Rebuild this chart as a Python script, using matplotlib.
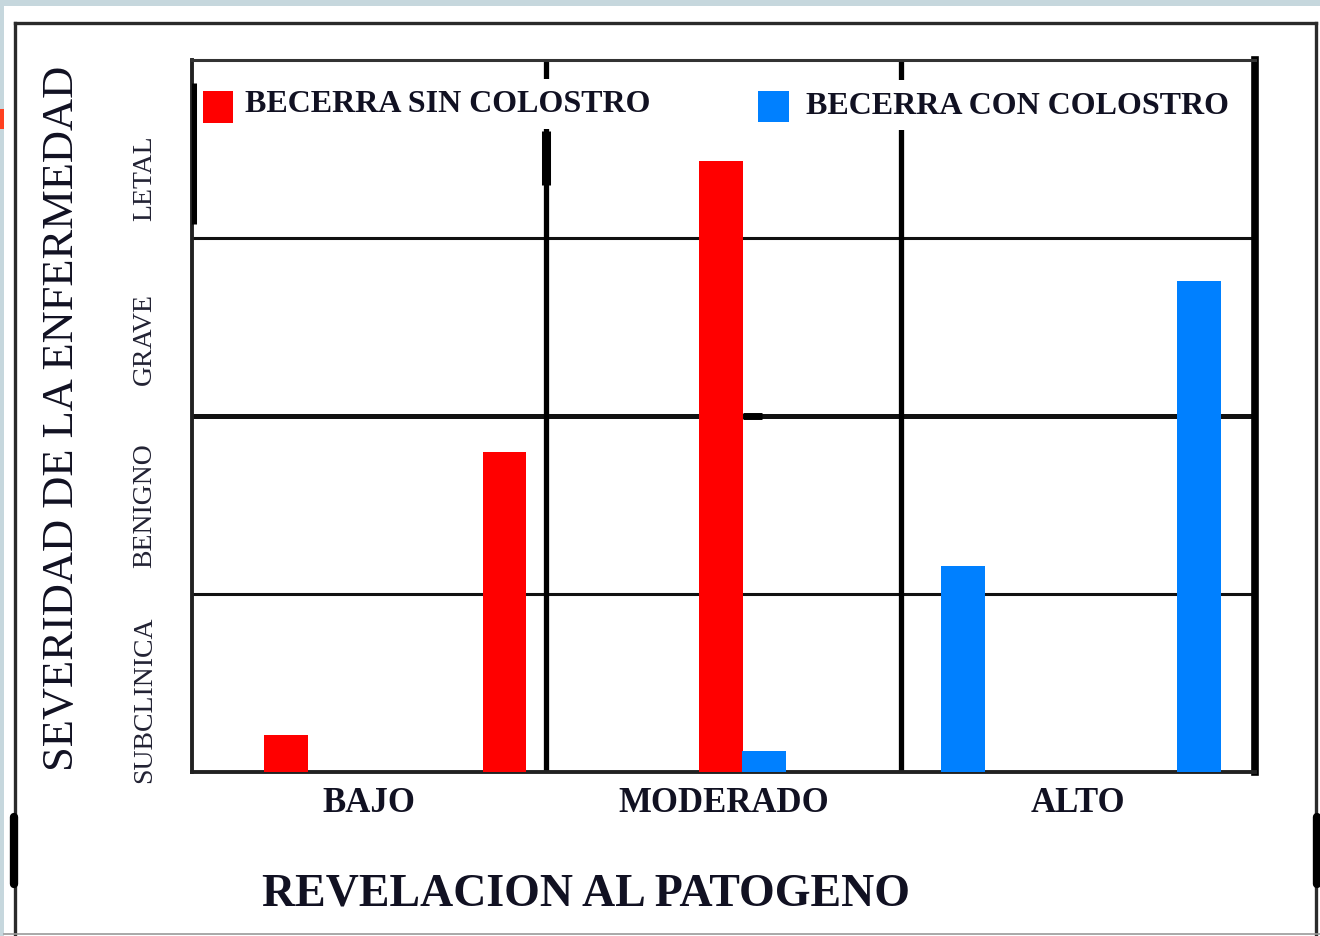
import numpy as np
import matplotlib
matplotlib.use("Agg")
import matplotlib.pyplot as plt
from matplotlib.patches import Rectangle
from matplotlib.lines import Line2D

# data (severity level, 0..4 scale)
groups = ["BAJO", "MODERADO", "ALTO"]
levels = ["SUBCLINICA", "BENIGNO", "GRAVE", "LETAL"]
sin_label = "BECERRA SIN COLOSTRO"
con_label = "BECERRA CON COLOSTRO"
sin_vals = [0.21, 1.80, 3.43]
con_vals = [0.12, 1.16, 2.76]

# where each bar sits along the exposure axis (groups are 0-1, 1-2, 2-3)
sin_pos = [0.265, 0.882, 1.492]
con_pos = [1.614, 2.176, 2.841]
level_pos = [0.41, 1.50, 2.44, 3.34]

RED = "#ff0000"
BLUE = "#0080ff"
W, H = 1320, 937


def fx(x):
    return x / W


def fy(y):
    return 1 - y / H


fig = plt.figure(figsize=(13.2, 9.37), dpi=100)
fig.patch.set_facecolor("white")

# page decoration around the picture
fig.add_artist(Rectangle((0, fy(7)), 1, 7 / H, transform=fig.transFigure,
                         facecolor="#c6d7dd", edgecolor="none"))
fig.add_artist(Rectangle((0, 0), 4 / W, 1, transform=fig.transFigure,
                         facecolor="#c6d7dd", edgecolor="none"))
fig.add_artist(Rectangle((0, fy(130)), 4 / W, 20 / H, transform=fig.transFigure,
                         facecolor="#ff4020", edgecolor="none"))
# outer frame
frame = dict(transform=fig.transFigure, color="#2a2a2a", lw=2.4)
fig.add_artist(Line2D([fx(15), fx(15)], [fy(24), fy(937)], **frame))
fig.add_artist(Line2D([fx(15), fx(1316)], [fy(24), fy(24)], **frame))
fig.add_artist(Line2D([fx(1316), fx(1316)], [fy(24), fy(937)], **frame))
fig.add_artist(Line2D([fx(4), fx(1320)], [fy(935), fy(935)], transform=fig.transFigure,
                      color="#9a9a9a", lw=1.2))
thick = dict(transform=fig.transFigure, color="black", lw=6, solid_capstyle="round")
fig.add_artist(Line2D([fx(14), fx(14)], [fy(818), fy(885)], **thick))
fig.add_artist(Line2D([fx(1317), fx(1317)], [fy(818), fy(885)], **thick))

ax = fig.add_axes([fx(192), fy(773), (1255 - 192) / W, (773 - 61) / H])
ax.set_xlim(0, 3)
ax.set_ylim(0, 4)

# grid
for y, lw in [(1, 2.2), (2, 3.6), (3, 2.2)]:
    ax.axhline(y, color="#111111", lw=lw, zorder=1)
for x in [1, 2]:
    ax.axvline(x, color="black", lw=3.8, zorder=1)
ax.vlines(0, 3.08, 3.87, color="black", lw=6.5, zorder=4)
ax.vlines(1, 3.30, 3.60, color="black", lw=6.5, zorder=4)
ax.hlines(2, 1.555, 1.61, color="black", lw=5, zorder=2)

bw = 0.124
ax.bar(sin_pos, sin_vals, width=bw, color=RED, zorder=3)
ax.bar(con_pos, con_vals, width=bw, color=BLUE, zorder=3)

for side in ["left", "bottom"]:
    ax.spines[side].set_linewidth(2.8)
    ax.spines[side].set_color("#222222")
ax.spines["top"].set_linewidth(2.2)
ax.spines["top"].set_color("#333333")
ax.spines["right"].set_linewidth(5.5)
ax.spines["right"].set_color("black")

ax.set_xticks([])
ax.set_yticks(level_pos)
ax.set_yticklabels(levels, rotation=90, va="center", family="Liberation Serif",
                   fontsize=20, color="#222233")
ax.tick_params(axis="y", length=0, pad=25)

fig.text(fx(62), fy(418), "SEVERIDAD DE LA ENFERMEDAD", rotation=90, ha="center",
         va="center", family="Liberation Serif", fontsize=32, color="#111122")

for i, g in enumerate(groups):
    ax.text(i + 0.5, -0.17, g, ha="center", va="center", family="Liberation Serif",
            fontweight="bold", fontsize=25, color="#111122")

fig.text(fx(586), fy(895), "REVELACION AL PATOGENO", ha="center", va="center",
         family="Liberation Serif", fontweight="bold", fontsize=33, color="#111122")

# legend
fig.add_artist(Rectangle((fx(203), fy(124)), 30 / W, 32 / H, transform=fig.transFigure,
                         facecolor=RED, edgecolor="none", zorder=6))
fig.add_artist(Rectangle((fx(758), fy(123)), 31 / W, 31 / H, transform=fig.transFigure,
                         facecolor=BLUE, edgecolor="none", zorder=6))
box = dict(facecolor="white", edgecolor="none", pad=7.5)
fig.text(fx(245), fy(105), sin_label, ha="left", va="center", family="Liberation Serif",
         fontweight="bold", fontsize=23, color="#111122", bbox=box, zorder=5)
fig.text(fx(806), fy(106), con_label, ha="left", va="center", family="Liberation Serif",
         fontweight="bold", fontsize=23, color="#111122", bbox=box, zorder=5)

fig.savefig("out.png", dpi=100)
